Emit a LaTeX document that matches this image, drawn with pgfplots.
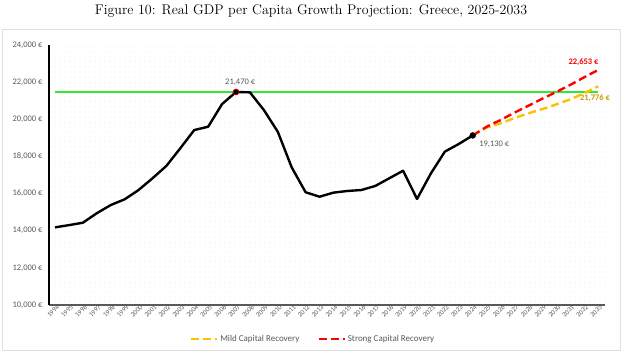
\documentclass[border=0pt]{standalone}
\usepackage{fontspec}
\usepackage{pgfplots}
\pgfplotsset{compat=1.18}
\usetikzlibrary{patterns.meta}
\newfontfamily\carlito{Carlito}
\definecolor{ggreen}{HTML}{33E633}
\definecolor{gyellow}{HTML}{FFC000}
\definecolor{ggold}{HTML}{C89B00}
\definecolor{gred}{HTML}{FF0000}
\definecolor{ggray}{HTML}{595959}
\begin{document}
\begin{tikzpicture}
\useasboundingbox (-49pt,-47pt) rectangle (574pt,305pt);
\draw[black!12,line width=0.6pt] (-47pt,276pt) rectangle (571pt,-45pt);
\node[font=\fontsize{14}{16}\selectfont] at (262pt,294pt) {Figure 10: Real GDP per Capita Growth Projection: Greece, 2025-2033};
\begin{axis}[
  scale only axis,
  width=556pt, height=260pt,
  xmin=1993.57, xmax=2033.5,
  ymin=10000, ymax=24000,
  axis x line*=bottom, axis y line*=left,
  x axis line style={-, ggray, line width=1.3pt},
  y axis line style={-, black, line width=1.2pt},
  major tick length=0pt,
  xtick={1994,...,2033},
  ytick={10000,12000,...,24000},
  scaled y ticks=false,
  /pgf/number format/assume math mode=true,
  xticklabel={\pgfmathprintnumber[fixed,precision=0,1000 sep={}]{\tick}},
  yticklabel={\pgfmathprintnumber[fixed,precision=0,1000 sep={,}]{\tick}~€},
  x tick label style={font=\carlito\fontsize{6.8}{8}\selectfont, text=ggray, rotate=45, anchor=north east, inner sep=0.5pt, xshift=2pt},
  y tick label style={font=\carlito\fontsize{8.5}{10}\selectfont, text=ggray, xshift=-3pt},
  axis background/.style={pattern={Dots[distance=5pt, radius=0.4pt]}, pattern color=black!22},
  legend style={at={(0.475,-0.131)}, anchor=center, draw=none, fill=none,
    font=\carlito\fontsize{9}{10}\selectfont, text=ggray, legend columns=2,
    /tikz/every even column/.append style={column sep=16pt}},
  legend image code/.code={\draw[#1] (0pt,0pt) -- (26pt,0pt);},
  clip=false,
]
% green reference line
\addplot[ggreen, line width=1.6pt, forget plot] coordinates {(1994,21470) (2033,21470)};
% historical
\addplot[black, line width=2.4pt, line join=round, forget plot] coordinates {
(1994,14180) (1995,14300) (1996,14430) (1997,14940) (1998,15380) (1999,15690)
(2000,16190) (2001,16820) (2002,17490) (2003,18440) (2004,19420) (2005,19600)
(2006,20820) (2007,21470) (2008,21450) (2009,20500) (2010,19330) (2011,17410)
(2012,16070) (2013,15830) (2014,16050) (2015,16140) (2016,16190) (2017,16410)
(2018,16820) (2019,17230) (2020,15710) (2021,17090) (2022,18260) (2023,18670)
(2024,19130)};
% mild
\addplot[gyellow, line width=2.4pt, dash pattern=on 8pt off 4pt] coordinates {
(2024,19130) (2025,19550) (2026,19780) (2027,20070) (2028,20320) (2029,20550)
(2030,20800) (2031,21070) (2032,21400) (2033,21776)};
\addlegendentry{Mild Capital Recovery}
% strong
\addplot[gred, line width=2.4pt, dash pattern=on 8pt off 4pt] coordinates {
(2024,19130) (2025,19600) (2026,19960) (2027,20360) (2028,20730) (2029,21110)
(2030,21470) (2031,21850) (2032,22260) (2033,22653)};
\addlegendentry{Strong Capital Recovery}
% markers
\addplot[only marks, mark=*, mark size=3pt, mark options={fill=black, draw=gred, line width=0.6pt}, forget plot] coordinates {(2007,21470)};
\addplot[only marks, mark=*, mark size=3pt, mark options={fill=black, draw=black}, forget plot] coordinates {(2024,19130)};
% labels
\node[font=\carlito\fontsize{8.5}{9}\selectfont, text=ggray, anchor=south] at (axis cs:2007.3,21470) [yshift=3pt] {21,470 €};
\node[font=\carlito\fontsize{8.5}{9}\selectfont, text=ggray, anchor=north west] at (axis cs:2024,19130) [xshift=3pt, yshift=-2pt] {19,130 €};
\node[font=\carlito\bfseries\fontsize{8.5}{9}\selectfont, text=gred, anchor=south east] at (axis cs:2033,22653) [xshift=4pt, yshift=1pt] {22,653 €};
\node[font=\carlito\bfseries\fontsize{8.5}{9}\selectfont, text=ggold, anchor=north] at (axis cs:2033,21776) [xshift=-3pt, yshift=-5pt] {21,776 €};
\end{axis}
\end{tikzpicture}
\end{document}
